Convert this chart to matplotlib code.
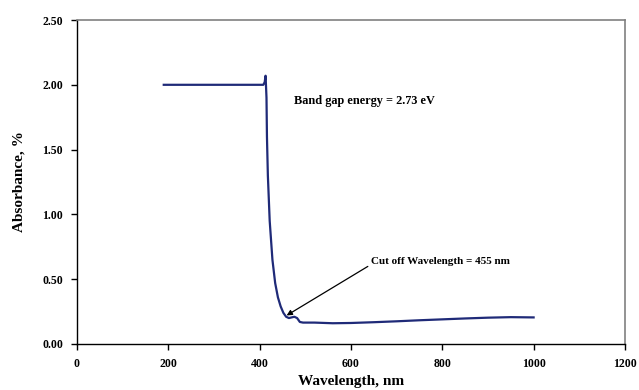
import matplotlib
matplotlib.use("Agg")
import matplotlib.pyplot as plt

# spectrum
wavelength = [190, 250, 300, 350, 400, 408, 411, 413, 415, 416, 418, 422, 428, 434, 440,
              446, 452, 458, 464, 470, 476, 482, 488, 495, 520, 560, 600, 650,
              700, 750, 800, 850, 900, 950, 1000]
absorbance = [2.00, 2.00, 2.00, 2.00, 2.00, 2.00, 2.02, 2.07, 1.90, 1.60, 1.30, 0.95, 0.65, 0.47, 0.36,
              0.29, 0.24, 0.21, 0.20, 0.205, 0.21, 0.20, 0.17, 0.165, 0.165, 0.16, 0.162, 0.168,
              0.175, 0.183, 0.19, 0.197, 0.203, 0.207, 0.205]

x_ticks = [0, 200, 400, 600, 800, 1000, 1200]
y_ticks = [0.00, 0.50, 1.00, 1.50, 2.00, 2.50]

plt.rcParams['font.family'] = ['Liberation Serif', 'DejaVu Serif']
plt.rcParams['font.weight'] = 'bold'

fig = plt.figure(figsize=(6.39, 3.90), dpi=100)
ax = fig.add_axes([0.1205, 0.118, 0.8575, 0.8307])

ax.plot(wavelength, absorbance, color='#1f2a78', lw=1.6)

ax.set_xlim(0, 1200)
ax.set_ylim(0, 2.5)
ax.set_xticks(x_ticks)
ax.set_yticks(y_ticks)
ax.set_yticklabels(['%.2f' % v for v in y_ticks], fontsize=8.5, fontweight='bold')
ax.set_xticklabels([str(v) for v in x_ticks], fontsize=8.5, fontweight='bold')
ax.tick_params(direction='out', length=4, width=1, pad=6)

for s in ['top', 'right']:
    ax.spines[s].set_color('#808080')
    ax.spines[s].set_linewidth(1.2)
for s in ['left', 'bottom']:
    ax.spines[s].set_color('black')
    ax.spines[s].set_linewidth(1)

ax.set_xlabel('Wavelength, nm', fontsize=11, fontweight='bold', labelpad=4)
ax.set_ylabel('Absorbance, %', fontsize=11, fontweight='bold', labelpad=12)

ax.text(475, 1.85, 'Band gap energy = 2.73 eV', fontsize=8.8, fontweight='bold')
ax.annotate('Cut off Wavelength = 455 nm', xy=(459, 0.22), xytext=(643, 0.62),
            fontsize=8, fontweight='bold',
            arrowprops=dict(arrowstyle='-|>', color='black', lw=0.9,
                            shrinkA=0, shrinkB=0, mutation_scale=8,
                            relpos=(0, 0.1)))

fig.savefig('out.png', dpi=100)
